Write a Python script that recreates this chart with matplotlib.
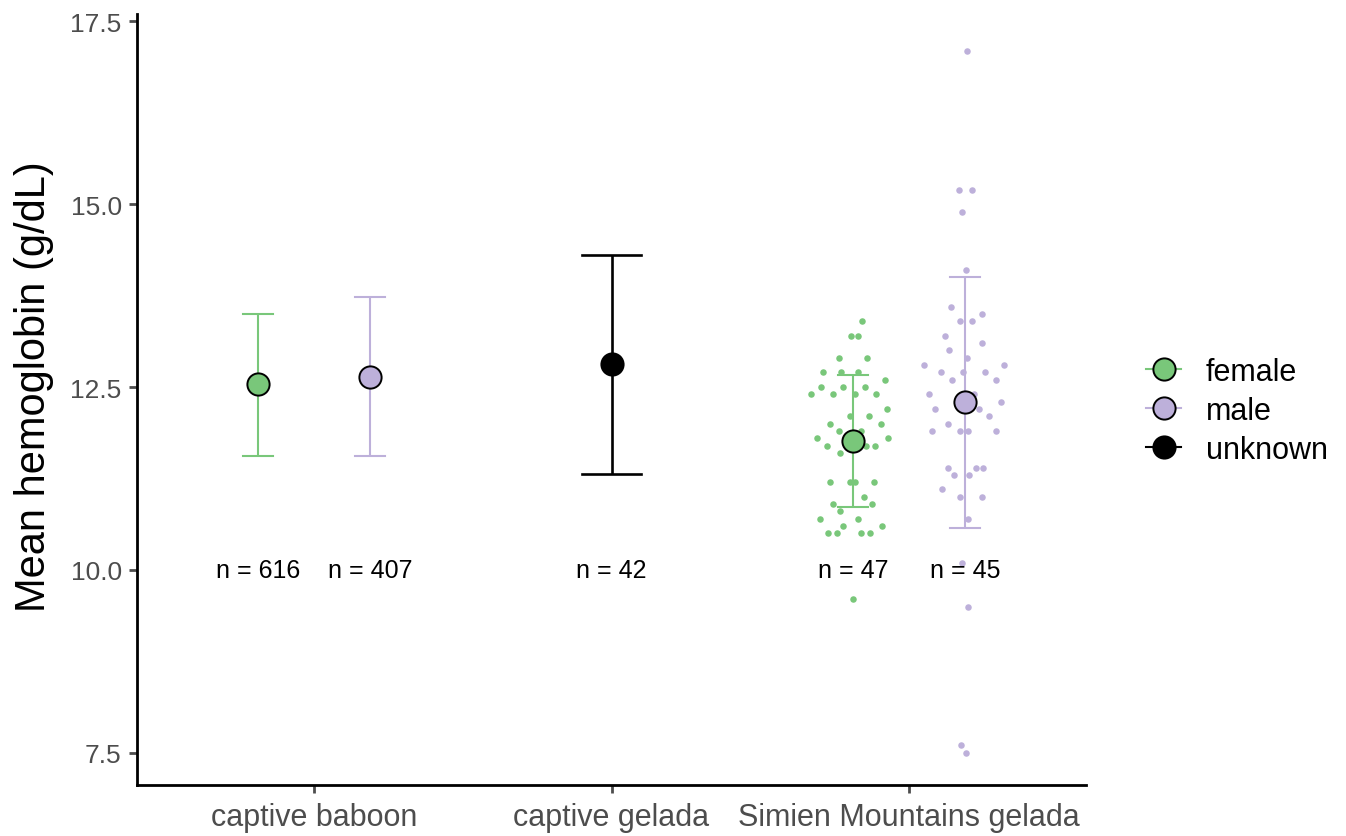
import numpy as np
import matplotlib
matplotlib.use("Agg")
import matplotlib.pyplot as plt
from matplotlib.lines import Line2D

plt.rcParams['font.family'] = ['Liberation Sans', 'DejaVu Sans']

# groups
groups = ["captive baboon", "captive gelada", "Simien Mountains gelada"]
sexes = ["female", "male", "unknown"]
colors = {"female": "#79C77A", "male": "#BDB0DA", "unknown": "#000000"}

# summary rows: group index, sex, mean, lower, upper, n
sum_group = [0, 0, 1, 2, 2]
sum_sex = ["female", "male", "unknown", "female", "male"]
sum_mean = [12.54, 12.64, 12.81, 11.76, 12.30]
sum_low = [11.56, 11.56, 11.31, 10.86, 10.57]
sum_high = [13.50, 13.73, 14.30, 12.66, 14.00]
sum_n = [616, 407, 42, 47, 45]

# individual Simien Mountains measurements (value, horizontal jitter)
fem_vals = [13.4, 13.2, 13.2, 12.9, 12.9, 12.7, 12.7, 12.7, 12.6,
            12.5, 12.5, 12.5, 12.4, 12.4, 12.4, 12.4, 12.2, 12.1, 12.1,
            12.0, 12.0, 11.9, 11.9, 11.8, 11.8, 11.7, 11.7, 11.7, 11.6,
            11.2, 11.2, 11.2, 11.2, 11.0, 10.9, 10.9, 10.8, 10.7, 10.7,
            10.6, 10.6, 10.5, 10.5, 10.5, 10.5, 9.6, 11.8]
fem_jit = [0.029, -0.006, 0.018, -0.046, 0.048, -0.102, -0.041, 0.018, 0.109,
           -0.107, -0.033, 0.041, -0.140, -0.068, 0.006, 0.076, 0.113, -0.009, 0.054,
           -0.078, 0.095, -0.046, 0.026, -0.120, 0.119, -0.088, 0.043, 0.073, -0.044,
           -0.077, -0.011, 0.006, 0.072, 0.036, -0.066, 0.065, -0.045, -0.111, 0.017,
           -0.033, 0.096, -0.084, -0.055, 0.027, 0.056, 0.000, 0.000]
male_vals = [17.1, 15.2, 15.2, 14.9, 14.1, 13.6, 13.5, 13.4, 13.4, 13.2,
             13.1, 13.0, 12.9, 12.8, 12.8, 12.7, 12.7, 12.7, 12.6, 12.6,
             12.4, 12.4, 12.3, 12.2, 12.2, 12.1, 12.0, 11.9, 11.9, 11.9,
             11.9, 11.4, 11.4, 11.4, 11.3, 11.3, 11.1, 11.0, 11.0, 10.7,
             10.1, 9.5, 7.6, 7.5, 12.3]
male_jit = [0.008, -0.020, 0.025, -0.009, 0.004, -0.048, 0.056, -0.016, 0.023, -0.066,
            0.056, -0.053, 0.006, -0.137, 0.133, -0.082, -0.007, 0.067, -0.045, 0.105,
            -0.120, 0.030, 0.121, -0.100, 0.048, 0.081, -0.056, -0.110, -0.016, 0.009,
            0.105, -0.058, 0.037, 0.062, -0.036, 0.013, -0.076, -0.018, 0.058, 0.011,
            -0.011, 0.009, -0.013, 0.002, 0.000]

W, H = 1346, 837
fig = plt.figure(figsize=(W / 100, H / 100), dpi=100)
ax = fig.add_axes([137 / W, 51 / H, 949 / W, 771 / H])

dodge = 0.188
def xpos(g, s):
    if s == "unknown":
        return g
    return g - dodge if s == "female" else g + dodge

x_sim = 2
ax.scatter(x_sim - dodge + np.array(fem_jit), fem_vals, s=22, color=colors["female"],
           linewidths=0, zorder=2)
ax.scatter(x_sim + dodge + np.array(male_jit), male_vals, s=22, color=colors["male"],
           linewidths=0, zorder=2)

for g, s, m, lo, hi, n in zip(sum_group, sum_sex, sum_mean, sum_low, sum_high, sum_n):
    x = xpos(g, s)
    c = colors[s]
    cap = 0.098 if s == "unknown" else 0.05
    lw = 1.9 if s == "unknown" else 1.5
    ax.plot([x, x], [lo, hi], color=c, lw=lw, zorder=3, solid_capstyle='butt')
    ax.plot([x - cap, x + cap], [lo, lo], color=c, lw=lw, zorder=3)
    ax.plot([x - cap, x + cap], [hi, hi], color=c, lw=lw, zorder=3)
    ax.plot([x], [m], marker='o', markersize=16, markerfacecolor=c,
            markeredgecolor='black', markeredgewidth=1.4, zorder=4, linestyle='none')
    ax.text(x, 10.0, f"n = {n}", ha='center', va='center', fontsize=18, color='black')

ax.set_xticks(range(len(groups)))
ax.set_xticklabels(groups)
ax.set_yticks([7.5, 10.0, 12.5, 15.0, 17.5])
ax.set_yticklabels(["7.5", "10.0", "12.5", "15.0", "17.5"])
ax.set_xlim(-0.595, 2.595)
ax.set_ylim(7.06, 17.6)
ax.set_ylabel("Mean hemoglobin (g/dL)", fontsize=30)
ax.yaxis.set_label_coords(-0.087, 0.518)

for side in ['top', 'right']:
    ax.spines[side].set_visible(False)
for side in ['left', 'bottom']:
    ax.spines[side].set_linewidth(2.0)
ax.tick_params(axis='both', length=6, width=2.0, colors='#4D4D4D')
ax.tick_params(axis='x', labelsize=22, pad=6)
ax.tick_params(axis='y', labelsize=19, pad=5)
for t in ax.get_xticklines() + ax.get_yticklines():
    t.set_color('black')

handles = [Line2D([0], [0], color=colors[s], lw=1.5, marker='o', markersize=16,
                  markerfacecolor=colors[s], markeredgecolor='black',
                  markeredgewidth=1.4) for s in sexes]
fig.legend(handles, sexes, loc='center left', bbox_to_anchor=(1146 / W, 1 - 412 / H),
           frameon=False, fontsize=22, handlelength=1.15, handletextpad=0.8,
           labelspacing=0.3, borderpad=0, borderaxespad=0)

fig.savefig("out.png", dpi=100)
